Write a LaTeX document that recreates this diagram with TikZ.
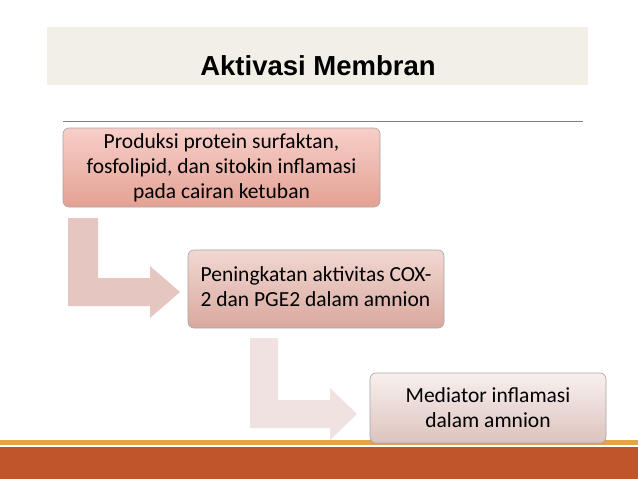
\documentclass[tikz,border=0pt]{standalone}
\usepackage{fontspec}
\setmainfont{Carlito}
\newfontfamily\titlefont{Liberation Sans}
\definecolor{band}{HTML}{F2F0E6}
\definecolor{boxAtop}{HTML}{F6CFC8}
\definecolor{boxAbot}{HTML}{E4A194}
\definecolor{boxBtop}{HTML}{F1D8D2}
\definecolor{boxBbot}{HTML}{D9A89E}
\definecolor{boxCtop}{HTML}{F8F0EE}
\definecolor{boxCbot}{HTML}{DCC3BE}
\definecolor{arrA}{HTML}{E6C6C0}
\definecolor{arrB}{HTML}{EFE2E0}
\definecolor{footline}{HTML}{E8A24A}
\definecolor{footband}{HTML}{C0552B}
\begin{document}
\begin{tikzpicture}[x=1pt,y=-1pt,
stepbox/.style = {% process boxes
    rounded corners=6pt, draw=gray!70, line width=0.6pt,
    font=\fontsize{21.5}{25}\selectfont, align=center, inner sep=4pt,
            },                        ]
  \useasboundingbox (0,0) rectangle (638,479);
  \fill[white] (0,0) rectangle (638,479);

  % title band
  \fill[band] (47,27) rectangle (588,85);
  \node[font=\titlefont\bfseries\fontsize{27.5}{32}\selectfont] (title) at (318,66) {Aktivasi Membran};
  \draw[gray, line width=0.5pt] (63,121) -- (583,121);

  % footer
  \fill[footline] (0,440) rectangle (638,445);
  \fill[footband] (0,447) rectangle (638,479);

  % bent arrows
  \fill[arrA] (68,218) -- (98,218) -- (98,278) -- (150,278) -- (150,266)
    -- (180,292) -- (150,318) -- (150,306) -- (68,306) -- cycle;
  \fill[arrB] (250,338) -- (278,338) -- (278,400) -- (330,400) -- (330,388)
    -- (357,414) -- (330,440) -- (330,428) -- (250,428) -- cycle;

  % boxes
  \node[stepbox, top color=boxAtop, bottom color=boxAbot,
    minimum width=317pt, minimum height=79pt] (produksi) at (221.5,167.5)
    {Produksi protein surfaktan,\\fosfolipid, dan sitokin inflamasi\\pada cairan ketuban};
  \node[stepbox, top color=boxBtop, bottom color=boxBbot,
    minimum width=256pt, minimum height=78pt] (cox) at (316,289)
    {\begin{tabular}{@{}l@{}}Peningkatan aktivitas COX-\\2 dan PGE2 dalam amnion\end{tabular}};
  \node[stepbox, top color=boxCtop, bottom color=boxCbot,
    minimum width=236pt, minimum height=70pt] (mediator) at (488,408)
    {Mediator inflamasi\\dalam amnion};
\end{tikzpicture}
\end{document}
